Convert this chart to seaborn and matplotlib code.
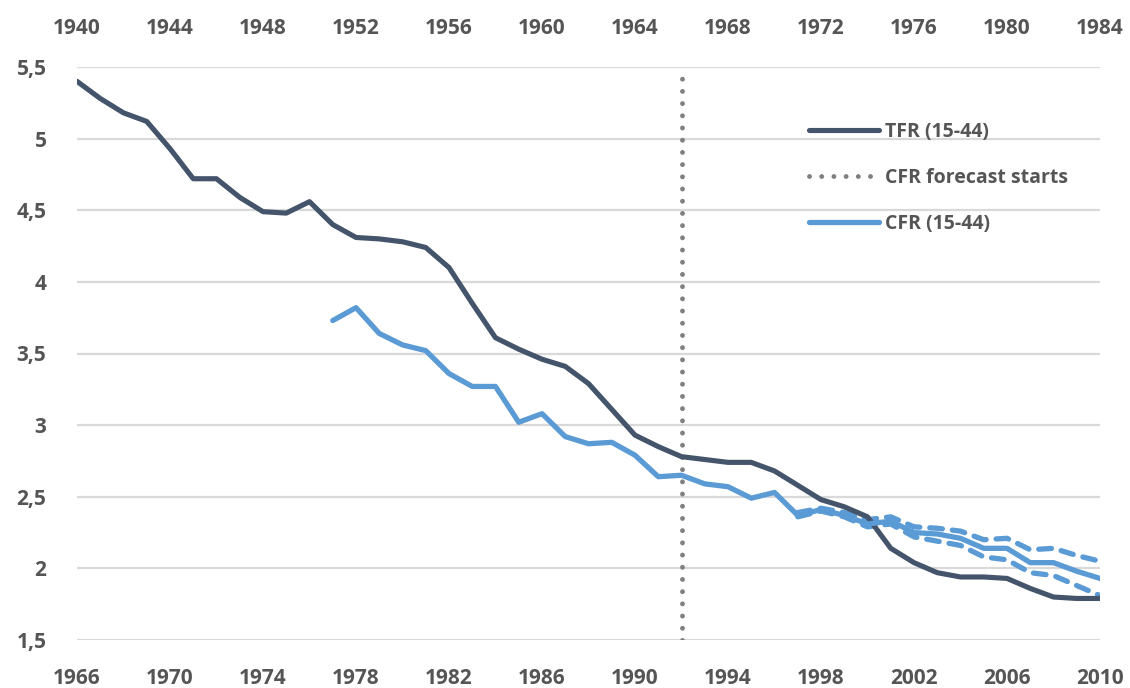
import matplotlib
matplotlib.use("Agg")
import matplotlib.pyplot as plt
import seaborn as sns
import numpy as np
import pandas as pd

# ---------------- data ----------------
tfr_years = list(range(1966, 2011))
tfr_values = [5.40, 5.28, 5.18, 5.12, 4.93, 4.72, 4.72, 4.59, 4.49, 4.48,
              4.56, 4.40, 4.31, 4.30, 4.28, 4.24, 4.10, 3.85, 3.61, 3.53,
              3.46, 3.41, 3.29, 3.11, 2.93, 2.85, 2.78, 2.76, 2.74, 2.74,
              2.68, 2.58, 2.48, 2.43, 2.36, 2.14, 2.04, 1.97, 1.94, 1.94,
              1.93, 1.86, 1.80, 1.79, 1.79]

cfr_years = list(range(1977, 2011))
cfr_values = [3.73, 3.82, 3.64, 3.56, 3.52, 3.36, 3.27, 3.27, 3.02, 3.08,
              2.92, 2.87, 2.88, 2.79, 2.64, 2.65, 2.59, 2.57, 2.49, 2.53,
              2.37, 2.41, 2.37, 2.31, 2.33, 2.25, 2.24, 2.21, 2.14, 2.14,
              2.04, 2.04, 1.98, 1.93]

band_years = list(range(1997, 2011))
cfr_upper = [2.39, 2.42, 2.39, 2.34, 2.36, 2.29, 2.28, 2.26, 2.20, 2.21,
             2.13, 2.14, 2.09, 2.05]
cfr_lower = [2.36, 2.40, 2.36, 2.29, 2.31, 2.22, 2.19, 2.16, 2.08, 2.06,
             1.97, 1.95, 1.88, 1.81]

forecast_start = 1992
cohort_offset = 26
bottom_ticks = list(range(1966, 2011, 4))
top_ticks = list(range(1940, 1985, 4))
y_ticks = [1.5, 2, 2.5, 3, 3.5, 4, 4.5, 5, 5.5]
y_labels = ["1,5", "2", "2,5", "3", "3,5", "4", "4,5", "5", "5,5"]

# ---------------- style ----------------
sns.set_theme(style="white")
plt.rcParams['font.family'] = ['Open Sans', 'DejaVu Sans']

TFR_C = "#44546a"
CFR_C = "#5b9bd5"
GRID_C = "#d9d9d9"
TXT_C = "#555555"

fig = plt.figure(figsize=(11.3, 6.88), dpi=100)
ax = fig.add_axes([77/1130, 1-640/688, (1100-77)/1130, (640-67)/688])

tfr_df = pd.DataFrame({"year": tfr_years, "value": tfr_values})
cfr_df = pd.DataFrame({"year": cfr_years, "value": cfr_values})
up_df = pd.DataFrame({"year": band_years, "value": cfr_upper})
lo_df = pd.DataFrame({"year": band_years, "value": cfr_lower})

for y in y_ticks:
    ax.axhline(y, color=GRID_C, lw=1.6, zorder=0)

sns.lineplot(data=up_df, x="year", y="value", ax=ax, color=CFR_C, lw=3.8,
             zorder=3)
ax.lines[-1].set(linestyle=(0, (2.4, 1.9)), dash_capstyle="round")
sns.lineplot(data=lo_df, x="year", y="value", ax=ax, color=CFR_C, lw=3.8,
             zorder=3)
ax.lines[-1].set(linestyle=(0, (2.4, 1.9)), dash_capstyle="round")
sns.lineplot(data=tfr_df, x="year", y="value", ax=ax, color=TFR_C, lw=3.7,
             zorder=4, label="TFR (15-44)")
ax.lines[-1].set_solid_capstyle("round")
ax.axvline(forecast_start, color="#808080", lw=3.5,
           linestyle=(0, (0.01, 2.5)), dash_capstyle="round", zorder=2,
           label="CFR forecast starts")
sns.lineplot(data=cfr_df, x="year", y="value", ax=ax, color=CFR_C, lw=3.8,
             zorder=5, label="CFR (15-44)")
ax.lines[-1].set_solid_capstyle("round")

ax.set_xlim(1966, 2010)
ax.set_ylim(1.5, 5.5)
ax.set_xticks(bottom_ticks)
ax.set_xticklabels([str(t) for t in bottom_ticks])
ax.set_yticks(y_ticks)
ax.set_yticklabels(y_labels)
ax.set_xlabel("")
ax.set_ylabel("")
for s in ax.spines.values():
    s.set_visible(False)
ax.tick_params(axis="both", length=0, labelsize=15, labelcolor=TXT_C)
ax.tick_params(axis="x", pad=20)
ax.tick_params(axis="y", pad=22)
for lab in ax.get_xticklabels() + ax.get_yticklabels():
    lab.set_fontweight("bold")

sec = ax.secondary_xaxis("top", functions=(lambda x: x - cohort_offset,
                                           lambda x: x + cohort_offset))
sec.set_xticks(top_ticks)
sec.set_xticklabels([str(t) for t in top_ticks])
sec.tick_params(axis="x", length=0, labelsize=15, labelcolor=TXT_C, pad=20)
for lab in sec.get_xticklabels():
    lab.set_fontweight("bold")
for s in sec.spines.values():
    s.set_visible(False)

handles, labels = ax.get_legend_handles_labels()
order = ["TFR (15-44)", "CFR forecast starts", "CFR (15-44)"]
hmap = dict(zip(labels, handles))
leg = ax.legend([hmap[k] for k in order], order, loc="upper left",
                bbox_to_anchor=((801-77)/1023, 1-(114-67)/573), frameon=False,
                fontsize=14, handlelength=3.6, labelspacing=1.35,
                handletextpad=0.3, borderaxespad=0)
for t in leg.get_texts():
    t.set_color(TXT_C)
    t.set_fontweight("bold")

fig.savefig("out.png", dpi=100)
